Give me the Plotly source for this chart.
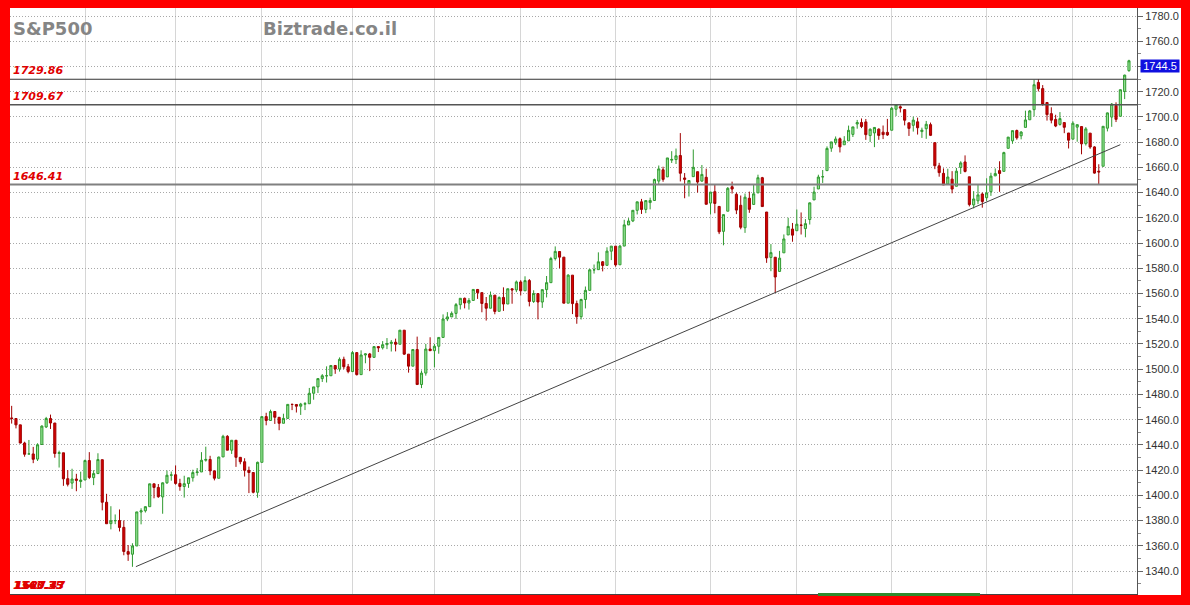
import plotly.graph_objects as go

# ---------------- data (S&P 500 daily, Oct 2012 - Oct 2013) ----------------
dates = (
    ["2012-10-%02d" % d for d in [5, 8, 9, 10, 11, 12, 15, 16, 17, 18, 19, 22, 23, 24, 25, 26, 31]]
    + ["2012-11-%02d" % d for d in [1, 2, 5, 6, 7, 8, 9, 12, 13, 14, 15, 16, 19, 20, 21, 23, 26, 27, 28, 29, 30]]
    + ["2012-12-%02d" % d for d in [3, 4, 5, 6, 7, 10, 11, 12, 13, 14, 17, 18, 19, 20, 21, 24, 26, 27, 28, 31]]
    + ["2013-01-%02d" % d for d in [2, 3, 4, 7, 8, 9, 10, 11, 14, 15, 16, 17, 18, 22, 23, 24, 25, 28, 29, 30, 31]]
    + ["2013-02-%02d" % d for d in [1, 4, 5, 6, 7, 8, 11, 12, 13, 14, 15, 19, 20, 21, 22, 25, 26, 27, 28]]
    + ["2013-03-%02d" % d for d in [1, 4, 5, 6, 7, 8, 11, 12, 13, 14, 15, 18, 19, 20, 21, 22, 25, 26, 27, 28]]
    + ["2013-04-%02d" % d for d in [1, 2, 3, 4, 5, 8, 9, 10, 11, 12, 15, 16, 17, 18, 19, 22, 23, 24, 25, 26, 29, 30]]
    + ["2013-05-%02d" % d for d in [1, 2, 3, 6, 7, 8, 9, 10, 13, 14, 15, 16, 17, 20, 21, 22, 23, 24, 28, 29, 30, 31]]
    + ["2013-06-%02d" % d for d in [3, 4, 5, 6, 7, 10, 11, 12, 13, 14, 17, 18, 19, 20, 21, 24, 25, 26, 27, 28]]
    + ["2013-07-%02d" % d for d in [1, 2, 3, 5, 8, 9, 10, 11, 12, 15, 16, 17, 18, 19, 22, 23, 24, 25, 26, 29, 30, 31]]
    + ["2013-08-%02d" % d for d in [1, 2, 5, 6, 7, 8, 9, 12, 13, 14, 15, 16, 19, 20, 21, 22, 23, 26, 27, 28, 29, 30]]
    + ["2013-09-%02d" % d for d in [3, 4, 5, 6, 9, 10, 11, 12, 13, 16, 17, 18, 19, 20, 23, 24, 25, 26, 27, 30]]
    + ["2013-10-%02d" % d for d in [1, 2, 3, 4, 7, 8, 9, 10, 11, 14, 15, 16, 17, 18]]
)

opens = [
    # Oct 2012
    1461.40, 1460.93, 1455.90, 1441.48, 1432.82, 1432.84, 1428.75, 1440.31, 1454.22, 1460.94, 1457.34, 1433.21, 1433.74, 1413.20, 1409.74, 1412.97, 1410.99,
    # Nov
    1412.20, 1427.59, 1414.02, 1417.26, 1428.27, 1394.53, 1377.55, 1379.86, 1380.03, 1374.64, 1355.41, 1353.36, 1359.88, 1386.82, 1387.79, 1391.03, 1409.15, 1406.29, 1398.77, 1409.96, 1415.95,
    # Dec
    1416.34, 1409.46, 1407.05, 1409.43, 1413.95, 1418.07, 1418.55, 1427.84, 1428.48, 1419.45, 1413.54, 1430.47, 1446.79, 1435.81, 1443.67, 1430.15, 1426.66, 1419.83, 1418.10, 1402.43,
    # Jan 2013
    1426.19, 1462.42, 1459.37, 1466.47, 1461.89, 1457.15, 1461.02, 1472.12, 1472.05, 1470.67, 1472.33, 1472.63, 1480.95, 1485.98, 1492.56, 1494.81, 1494.82, 1502.96, 1500.18, 1507.84, 1501.96,
    # Feb
    1498.11, 1513.17, 1495.71, 1511.29, 1512.12, 1509.39, 1517.93, 1517.01, 1519.43, 1520.33, 1521.38, 1519.79, 1530.94, 1511.95, 1502.42, 1515.60, 1487.85, 1496.94, 1515.99,
    # Mar
    1514.68, 1518.20, 1525.20, 1539.79, 1541.46, 1544.26, 1551.15, 1556.22, 1552.48, 1554.52, 1563.21, 1560.70, 1552.10, 1548.34, 1558.71, 1545.90, 1556.89, 1551.69, 1563.75, 1562.86,
    # Apr
    1569.18, 1562.17, 1570.25, 1553.69, 1559.98, 1553.26, 1563.11, 1568.61, 1587.73, 1593.30, 1588.84, 1552.36, 1574.57, 1552.03, 1541.61, 1555.25, 1562.50, 1578.78, 1578.93, 1585.16, 1582.34, 1593.58,
    # May
    1597.55, 1582.77, 1597.60, 1614.40, 1617.55, 1625.95, 1632.69, 1626.69, 1632.10, 1633.75, 1649.13, 1658.07, 1652.45, 1665.71, 1666.20, 1669.39, 1651.62, 1646.67, 1652.63, 1656.57, 1649.14, 1652.13,
    # Jun
    1631.71, 1640.73, 1629.05, 1609.29, 1625.27, 1644.67, 1638.64, 1629.94, 1612.15, 1635.52, 1630.64, 1639.77, 1651.83, 1624.62, 1588.62, 1588.77, 1577.52, 1592.27, 1606.44, 1611.12,
    # Jul
    1609.78, 1614.29, 1611.48, 1618.65, 1634.20, 1642.89, 1652.50, 1657.41, 1675.26, 1679.59, 1682.70, 1677.91, 1681.05, 1686.15, 1694.41, 1695.53, 1696.06, 1685.21, 1687.31, 1690.32, 1687.92, 1687.76,
    # Aug
    1689.42, 1706.10, 1708.01, 1705.79, 1695.30, 1693.35, 1696.10, 1688.37, 1690.65, 1693.88, 1679.61, 1661.22, 1655.25, 1646.81, 1650.66, 1645.03, 1659.92, 1664.29, 1652.54, 1630.25, 1633.50, 1638.89,
    # Sep
    1635.95, 1640.72, 1653.28, 1657.44, 1656.85, 1675.11, 1681.04, 1689.21, 1685.04, 1691.70, 1697.73, 1705.74, 1727.34, 1722.44, 1711.44, 1702.60, 1698.02, 1694.05, 1695.52, 1687.26,
    # Oct
    1682.41, 1691.90, 1692.35, 1678.79, 1687.15, 1676.22, 1656.99, 1660.88, 1691.09, 1699.86, 1709.17, 1700.49, 1720.17, 1736.72,
]

highs = [
    1470.96, 1460.93, 1455.90, 1442.52, 1443.90, 1438.43, 1441.31, 1455.51, 1462.20, 1464.02, 1457.34, 1435.46, 1433.74, 1420.04, 1421.12, 1417.09, 1418.76,
    1428.35, 1434.27, 1419.90, 1433.38, 1428.27, 1401.23, 1391.39, 1384.87, 1388.81, 1380.13, 1360.62, 1362.03, 1386.89, 1389.77, 1391.25, 1409.16, 1409.15, 1409.01, 1410.31, 1419.70, 1418.86,
    1423.73, 1413.14, 1415.56, 1413.95, 1420.34, 1421.64, 1434.27, 1438.59, 1431.36, 1419.45, 1430.67, 1448.00, 1447.75, 1443.70, 1443.67, 1430.15, 1429.42, 1422.80, 1418.10, 1426.74,
    1462.43, 1465.47, 1467.94, 1466.47, 1461.89, 1464.73, 1472.30, 1472.75, 1472.05, 1473.31, 1473.96, 1485.16, 1485.98, 1492.56, 1496.13, 1502.27, 1503.26, 1503.23, 1509.35, 1509.94, 1504.19,
    1514.41, 1513.17, 1514.96, 1512.53, 1512.90, 1518.31, 1518.31, 1522.29, 1524.69, 1523.14, 1524.24, 1530.94, 1530.94, 1511.95, 1515.64, 1525.84, 1498.99, 1520.08, 1525.34,
    1519.99, 1525.27, 1543.47, 1545.25, 1545.78, 1552.48, 1556.27, 1556.77, 1556.39, 1563.32, 1563.62, 1560.70, 1557.25, 1561.56, 1558.71, 1557.74, 1564.91, 1563.95, 1564.07, 1570.28,
    1570.57, 1573.66, 1571.47, 1562.60, 1559.98, 1563.07, 1573.89, 1589.07, 1597.35, 1593.30, 1588.84, 1575.35, 1574.57, 1554.38, 1555.89, 1565.55, 1579.58, 1583.00, 1592.64, 1585.78, 1596.65, 1597.57,
    1597.55, 1598.60, 1618.46, 1619.77, 1626.03, 1632.78, 1635.01, 1633.70, 1636.00, 1651.10, 1661.49, 1660.51, 1667.47, 1672.84, 1674.93, 1687.18, 1655.50, 1649.78, 1674.21, 1656.57, 1661.91, 1658.99,
    1640.42, 1646.53, 1629.31, 1622.56, 1644.40, 1648.69, 1640.13, 1637.71, 1639.25, 1640.80, 1646.50, 1654.19, 1652.45, 1624.62, 1599.19, 1588.77, 1593.79, 1606.83, 1620.07, 1615.94,
    1626.61, 1624.26, 1618.97, 1632.07, 1644.68, 1654.18, 1657.92, 1676.63, 1680.19, 1684.51, 1683.73, 1684.75, 1693.12, 1692.09, 1697.61, 1698.78, 1698.38, 1690.94, 1691.85, 1690.92, 1693.19, 1698.43,
    1707.85, 1709.67, 1709.24, 1705.79, 1695.30, 1700.18, 1699.42, 1691.49, 1696.81, 1695.52, 1679.61, 1663.60, 1659.18, 1658.92, 1656.99, 1659.55, 1664.85, 1669.51, 1652.54, 1641.18, 1646.41, 1640.08,
    1651.35, 1655.72, 1659.17, 1664.83, 1672.40, 1684.09, 1689.13, 1689.97, 1688.73, 1704.95, 1705.52, 1729.44, 1729.86, 1725.23, 1711.44, 1707.63, 1701.71, 1703.85, 1695.52, 1687.26,
    1696.55, 1693.87, 1692.35, 1691.94, 1687.15, 1676.79, 1662.47, 1692.56, 1703.44, 1711.03, 1711.57, 1721.76, 1733.45, 1745.31,
]

lows = [
    1456.89, 1453.10, 1441.18, 1430.64, 1432.82, 1425.53, 1427.24, 1440.31, 1453.35, 1452.63, 1429.85, 1422.06, 1407.56, 1407.10, 1405.14, 1403.28, 1405.95,
    1412.20, 1412.91, 1408.13, 1417.26, 1388.14, 1377.51, 1373.03, 1377.19, 1371.39, 1352.50, 1348.05, 1343.35, 1359.88, 1377.04, 1386.39, 1391.03, 1397.68, 1398.03, 1385.43, 1409.04, 1411.63,
    1408.46, 1403.65, 1398.23, 1405.93, 1410.90, 1415.64, 1418.55, 1426.76, 1416.00, 1411.88, 1413.54, 1430.47, 1435.80, 1432.82, 1422.58, 1424.66, 1414.91, 1401.80, 1401.58, 1398.11,
    1426.19, 1455.53, 1458.99, 1456.62, 1451.64, 1457.15, 1461.02, 1467.58, 1465.69, 1463.76, 1467.60, 1472.63, 1475.81, 1481.16, 1489.90, 1489.46, 1494.82, 1496.33, 1498.09, 1500.11, 1496.76,
    1498.11, 1495.02, 1495.71, 1504.71, 1498.49, 1509.39, 1513.61, 1515.61, 1515.93, 1514.02, 1514.14, 1519.79, 1511.41, 1497.29, 1502.42, 1487.85, 1485.01, 1494.88, 1514.46,
    1501.48, 1512.29, 1525.20, 1538.11, 1541.46, 1539.85, 1547.36, 1548.24, 1547.25, 1554.52, 1555.74, 1545.13, 1538.57, 1548.34, 1543.55, 1545.90, 1546.22, 1551.69, 1551.90, 1561.08,
    1558.47, 1562.17, 1549.80, 1552.52, 1539.50, 1548.63, 1556.89, 1568.61, 1586.17, 1579.97, 1552.28, 1552.36, 1543.69, 1536.03, 1539.40, 1548.19, 1562.50, 1575.80, 1578.93, 1577.56, 1582.34, 1586.50,
    1581.28, 1582.77, 1597.60, 1614.21, 1616.64, 1622.70, 1623.09, 1623.71, 1626.74, 1633.75, 1646.68, 1648.60, 1652.45, 1663.52, 1662.67, 1648.86, 1635.53, 1636.88, 1652.63, 1640.05, 1648.61, 1630.74,
    1622.72, 1623.62, 1607.09, 1598.23, 1625.27, 1639.26, 1622.92, 1610.92, 1608.07, 1623.96, 1630.34, 1639.77, 1628.91, 1584.32, 1577.70, 1560.33, 1577.09, 1592.27, 1606.44, 1601.06,
    1609.78, 1606.77, 1604.57, 1614.71, 1634.20, 1642.89, 1647.66, 1657.41, 1672.33, 1677.89, 1671.84, 1677.91, 1681.05, 1684.08, 1690.67, 1691.13, 1681.81, 1680.07, 1676.03, 1681.86, 1682.42, 1684.94,
    1689.42, 1700.68, 1703.55, 1693.29, 1684.91, 1688.38, 1686.02, 1683.35, 1682.62, 1684.83, 1658.59, 1652.61, 1646.06, 1646.08, 1639.43, 1645.03, 1654.81, 1656.02, 1629.05, 1627.47, 1630.88, 1628.05,
    1633.41, 1637.41, 1653.07, 1640.62, 1656.85, 1675.11, 1678.70, 1681.96, 1682.22, 1691.70, 1697.73, 1700.35, 1720.20, 1708.89, 1697.10, 1694.90, 1691.88, 1693.11, 1687.11, 1674.99,
    1682.07, 1680.34, 1670.36, 1677.33, 1674.70, 1655.03, 1646.47, 1660.88, 1688.52, 1692.13, 1695.93, 1700.49, 1714.12, 1735.74,
]

closes = [
    1460.93, 1455.88, 1441.48, 1432.56, 1432.84, 1428.59, 1440.13, 1454.92, 1460.91, 1457.34, 1433.19, 1433.82, 1413.11, 1408.75, 1412.97, 1411.94, 1412.16,
    1427.59, 1414.20, 1417.26, 1428.39, 1394.53, 1377.51, 1379.85, 1380.03, 1374.53, 1355.49, 1353.33, 1359.88, 1386.89, 1387.81, 1391.03, 1409.15, 1406.29, 1398.94, 1409.93, 1415.95, 1416.18,
    1409.46, 1407.05, 1409.28, 1413.94, 1418.07, 1418.55, 1427.84, 1428.48, 1419.45, 1413.58, 1430.36, 1446.79, 1435.81, 1443.69, 1430.15, 1426.66, 1419.83, 1418.10, 1402.43, 1426.19,
    1462.42, 1459.37, 1466.47, 1461.89, 1457.15, 1461.02, 1472.12, 1472.05, 1470.68, 1472.34, 1472.63, 1480.94, 1485.98, 1492.56, 1494.81, 1494.82, 1502.96, 1500.18, 1507.84, 1501.96, 1498.11,
    1513.17, 1495.71, 1511.29, 1512.12, 1509.39, 1517.93, 1517.01, 1519.43, 1520.33, 1521.38, 1519.79, 1530.94, 1511.95, 1502.42, 1515.60, 1487.85, 1496.94, 1515.99, 1514.68,
    1518.20, 1525.20, 1539.79, 1541.46, 1544.26, 1551.18, 1556.22, 1552.48, 1554.52, 1563.23, 1560.70, 1552.10, 1548.34, 1558.71, 1545.80, 1556.89, 1551.69, 1563.77, 1562.85, 1569.19,
    1562.17, 1570.25, 1553.69, 1559.98, 1553.28, 1563.07, 1568.61, 1587.73, 1593.37, 1588.85, 1552.36, 1574.57, 1552.01, 1541.61, 1555.25, 1562.50, 1578.78, 1578.79, 1585.16, 1582.24, 1593.61, 1597.57,
    1582.70, 1597.59, 1614.42, 1617.50, 1625.96, 1632.69, 1626.67, 1633.70, 1633.77, 1650.34, 1658.78, 1650.47, 1667.47, 1666.29, 1669.16, 1655.35, 1650.51, 1649.60, 1660.06, 1648.36, 1654.41, 1630.74,
    1640.42, 1631.38, 1608.90, 1622.56, 1643.38, 1642.81, 1626.13, 1612.52, 1636.36, 1626.73, 1639.04, 1651.81, 1628.93, 1588.19, 1592.43, 1573.09, 1588.03, 1603.26, 1613.20, 1606.28,
    1614.96, 1614.08, 1615.41, 1631.89, 1640.46, 1652.32, 1652.62, 1675.02, 1680.19, 1682.50, 1676.26, 1680.91, 1689.37, 1692.09, 1695.53, 1692.39, 1685.94, 1690.25, 1691.65, 1685.33, 1685.96, 1685.73,
    1706.87, 1709.67, 1707.14, 1697.37, 1690.91, 1697.48, 1691.42, 1689.47, 1694.16, 1685.39, 1661.32, 1655.83, 1646.06, 1652.35, 1642.80, 1656.96, 1663.50, 1656.78, 1630.48, 1634.96, 1638.17, 1632.97,
    1639.77, 1653.08, 1655.08, 1655.17, 1671.71, 1683.99, 1689.13, 1683.42, 1687.99, 1697.60, 1704.76, 1725.52, 1722.34, 1709.91, 1701.84, 1697.42, 1692.77, 1698.67, 1691.75, 1681.55,
    1695.00, 1693.87, 1678.66, 1690.50, 1676.12, 1655.45, 1656.40, 1692.56, 1703.20, 1710.14, 1698.06, 1721.54, 1733.15, 1744.50,
]

levels = [1729.86, 1709.67, 1646.41]
level_labels = ["1729.86", "1709.67", "1646.41"]
# trendline anchor points: (date, price)
trend_start = ("2012-11-16", 1343.5)
trend_end = ("2013-10-16", 1678.0)
last_price_label = "1744.5"
y_ticks = list(range(1340, 1781, 20))
y_tick_text = ["%.1f" % v for v in y_ticks]
title_left = "S&P500"
title_mid = "Biztrade.co.il"
bottom_labels = ["1343.35", "1560.33", "1627.47"]

# ---------------- figure ----------------
idx = list(range(len(dates)))
month_starts = [i for i in idx if i == 0 or dates[i][:7] != dates[i - 1][:7]][1:]

W, H = 1190, 605
ML, MR, MT, MB = 10, 53, 8, 11
PW, PH = W - ML - MR, H - MT - MB


def px_x(px):
    return (px - ML) / PW


def px_y(py):
    return 1 - (py - MT) / PH


fig = go.Figure()
fig.add_trace(go.Candlestick(
    x=idx, open=opens, high=highs, low=lows, close=closes,
    increasing=dict(line=dict(color="#2f9a2f", width=1), fillcolor="#9be89b"),
    decreasing=dict(line=dict(color="#a00000", width=1), fillcolor="#d40000"),
    whiskerwidth=0, hoverinfo="skip", showlegend=False,
))

shapes = []
# white background for right label column
shapes.append(dict(type="rect", xref="paper", yref="paper", x0=1, x1=px_x(1181), y0=px_y(595), y1=1,
                   fillcolor="white", line=dict(width=0), layer="below"))
level_styles = [("#333333", 1), ("#555555", 1.5), ("#808080", 2)]
for lv, (col, w) in zip(levels, level_styles):
    shapes.append(dict(type="line", xref="paper", yref="y", x0=0, x1=1, y0=lv, y1=lv,
                       line=dict(color=col, width=w), layer="above"))
ti0 = dates.index(trend_start[0]) + 0.8
ti1 = dates.index(trend_end[0])
shapes.append(dict(type="line", xref="x", yref="y", x0=ti0, x1=ti1, y0=trend_start[1], y1=trend_end[1],
                   line=dict(color="#444444", width=1), layer="above"))
# green bar at bottom edge
shapes.append(dict(type="rect", xref="paper", yref="paper", x0=px_x(818), x1=px_x(980), y0=px_y(596), y1=px_y(593),
                   fillcolor="#2e8b2e", line=dict(width=0), layer="above"))

annotations = []
annotations.append(dict(text="<b>%s</b>" % title_left, xref="paper", yref="paper", x=px_x(11), y=px_y(29),
                        xanchor="left", yanchor="middle", showarrow=False,
                        font=dict(family="DejaVu Sans", size=18, color="#858585")))
annotations.append(dict(text="<b>%s</b>" % title_mid, xref="paper", yref="paper", x=px_x(261), y=px_y(29),
                        xanchor="left", yanchor="middle", showarrow=False,
                        font=dict(family="DejaVu Sans", size=18, color="#858585")))
for lv, lab in zip(levels, level_labels):
    annotations.append(dict(text="<b><i>%s</i></b>" % lab, xref="paper", yref="y", x=px_x(11), y=lv,
                            xanchor="left", yanchor="bottom", showarrow=False, borderpad=1,
                            font=dict(family="DejaVu Sans", size=11, color="#e00000")))
for k, lab in enumerate(bottom_labels):
    annotations.append(dict(text="<b><i>%s</i></b>" % lab, xref="paper", yref="paper", x=px_x(11 + k), y=px_y(585),
                            xanchor="left", yanchor="middle", showarrow=False,
                            font=dict(family="DejaVu Sans", size=11, color="#e00000")))
annotations.append(dict(text=last_price_label, xref="paper", yref="y", x=px_x(1140), y=1740,
                        xanchor="left", yanchor="middle", showarrow=False, bgcolor="#1010e0",
                        borderpad=0, width=38, align="center",
                        font=dict(family="Liberation Sans", size=11, color="white")))

fig.update_layout(
    width=W, height=H,
    margin=dict(l=ML, r=MR, t=MT, b=MB, pad=0),
    paper_bgcolor="#ff0000", plot_bgcolor="white",
    shapes=shapes, annotations=annotations,
    showlegend=False,
    xaxis=dict(range=[-0.385, 260.86], tickvals=month_starts, showticklabels=False, ticks="",
               showgrid=True, gridcolor="#d6d6d6", gridwidth=1, zeroline=False,
               showline=True, linecolor="#444444", linewidth=1, rangeslider=dict(visible=False),
               fixedrange=True),
    yaxis=dict(side="right", range=[1321.81, 1786.34], tickvals=y_ticks, ticktext=y_tick_text,
               ticks="outside", ticklen=5, tickcolor="#666666",
               tickfont=dict(family="Liberation Sans", size=11, color="#333333"),
               showgrid=True, gridcolor="#a8a8a8", griddash="1px,2px", gridwidth=1, zeroline=False,
               showline=True, linecolor="#555555", linewidth=1,
               minor=dict(dtick=10, tick0=1330, ticks="outside", ticklen=3, tickcolor="#888888", showgrid=False),
               fixedrange=True),
)

fig.write_html("out.html", config={"displayModeBar": False, "staticPlot": True},
               post_script="document.body.style.margin='0';document.body.style.overflow='hidden';")
